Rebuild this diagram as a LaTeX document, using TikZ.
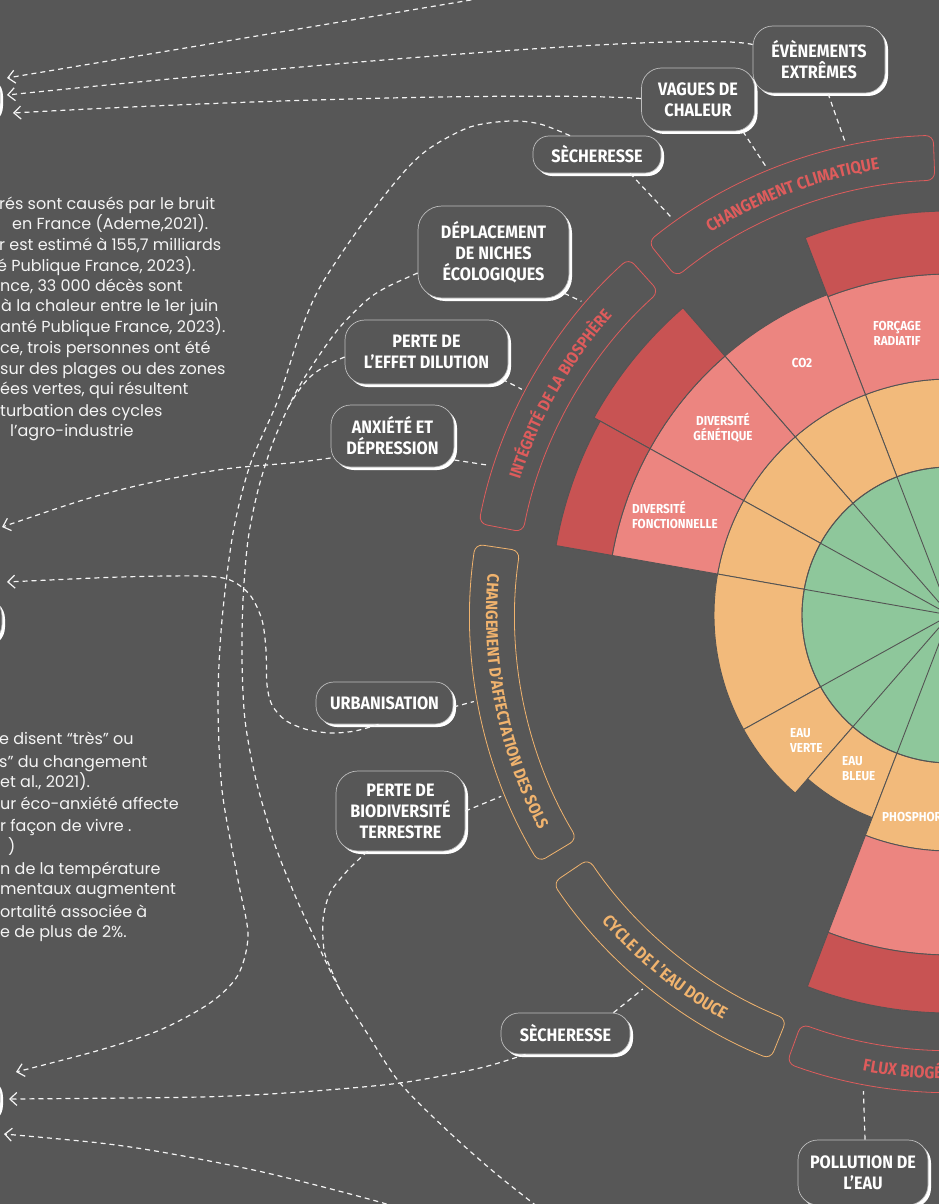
\documentclass[tikz,border=0pt]{standalone}
\usepackage{fontspec}
\setmainfont{Poppins}
\newfontfamily\capsfont[FakeStretch=0.9]{Fira Sans}
\usetikzlibrary{arrows.meta,decorations.text,shadows}

\definecolor{fond}{HTML}{575757}
\definecolor{rouge}{HTML}{C85353}
\definecolor{rose}{HTML}{EC8580}
\definecolor{ocre}{HTML}{F2BA7B}
\definecolor{sauge}{HTML}{8EC79B}
\definecolor{trait}{HTML}{545454}
\definecolor{bandrouge}{HTML}{DE5C5C}
\definecolor{bandocre}{HTML}{F0B36E}
\definecolor{contour}{HTML}{BDBDBD}
\definecolor{blanc}{HTML}{F4F4F4}

\tikzset{
  pastille/.style={draw=contour, line width=0.7pt, fill=fond, rounded corners=20pt,
    general shadow={fill=white, shadow xshift=3pt, shadow yshift=-3pt},
    text=white, align=center, inner sep=0pt,
    font=\capsfont\bfseries\fontsize{18}{21}\selectfont},
  secteur/.style={text=white, inner sep=0pt, font=\capsfont\bfseries\fontsize{13}{15}\selectfont},
  corps/.style={text=blanc, inner sep=0pt, anchor=base west, font=\fontsize{16}{20}\selectfont},
  lien/.style={blanc, line width=1.2pt, dash pattern=on 5pt off 4pt},
  fleche/.style={lien, -{Straight Barb[length=7pt, width=13pt]}},
  coin/.style={line width=0.8pt, rounded corners=8pt},
}

\begin{document}
\begin{tikzpicture}[x=1pt, y=-1pt]
\useasboundingbox (0,0) rectangle (939,1204);
\fill[fond] (0,0) rectangle (939,1204);
\clip (0,0) rectangle (939,1204);

% roue
\begin{scope}[shift={(950,615)}, y=1pt]
  \fill[sauge] (0,0) circle (148);
  \foreach \a/\b/\ro/\rp/\rr in {90/111/236/341/404, 111/131/236/343/0, 131/151/236/343/407, 151/170/236/343/400, 170/209/236/0/0, 209/229/236/0/0, 229/249/217/0/0, 249/272/236/340/398}{
    \filldraw[ocre, draw=trait, line width=0.9pt] (\a:148) arc[start angle=\a, end angle=\b, radius=148] -- (\b:\ro) arc[start angle=\b, end angle=\a, radius=\ro] -- cycle;
    \ifnum\rp>0
      \filldraw[rose, draw=trait, line width=0.9pt] (\a:\ro) arc[start angle=\a, end angle=\b, radius=\ro] -- (\b:\rp) arc[start angle=\b, end angle=\a, radius=\rp] -- cycle;
    \fi
    \ifnum\rr>0
      \filldraw[rouge, draw=trait, line width=0.9pt] (\a:\rp) arc[start angle=\a, end angle=\b, radius=\rp] -- (\b:\rr) arc[start angle=\b, end angle=\a, radius=\rr] -- cycle;
    \fi
    \draw[trait, line width=0.9pt] (0,0) -- (\a:148);
  }
  \draw[trait, line width=0.9pt] (0,0) circle (148);

  % bandes
  \draw[coin, bandrouge] (92:435) arc[start angle=92, end angle=129, radius=435] -- (129:480) arc[start angle=129, end angle=92, radius=480] -- cycle;
  \draw[coin, bandrouge] (132:435) arc[start angle=132, end angle=169, radius=435] -- (169:480) arc[start angle=169, end angle=132, radius=480] -- cycle;
  \draw[coin, bandocre] (171.5:435) arc[start angle=171.5, end angle=211, radius=435] -- (211:480) arc[start angle=211, end angle=171.5, radius=480] -- cycle;
  \draw[coin, bandocre] (214:436) arc[start angle=214, end angle=248, radius=436] -- (248:479) arc[start angle=248, end angle=214, radius=479] -- cycle;
  \draw[coin, bandrouge] (250:435) arc[start angle=250, end angle=292, radius=435] -- (292:477) arc[start angle=292, end angle=250, radius=477] -- cycle;

  \path[decorate, decoration={text along path, text align=center,
    text={|\capsfont\bfseries\fontsize{17}{17}\selectfont\color{bandrouge}|CHANGEMENT CLIMATIQUE}}]
    (129:451) arc[start angle=129, end angle=92, radius=451];
  \path[decorate, decoration={text along path, text align=center,
    text={|\capsfont\bfseries\fontsize{16.5}{17}\selectfont\color{bandrouge}|INTÉGRITÉ DE LA BIOSPHÈRE}}]
    (169:451) arc[start angle=169, end angle=132, radius=451];
  \path[decorate, decoration={text along path, text align=center,
    text={|\capsfont\bfseries\fontsize{16.5}{17}\selectfont\color{bandocre}|CHANGEMENT D’AFFECTATION DES SOLS}}]
    (171.5:464) arc[start angle=171.5, end angle=211, radius=464];
  \path[decorate, decoration={text along path, text align=center,
    text={|\capsfont\bfseries\fontsize{17}{17}\selectfont\color{bandocre}|CYCLE DE L’EAU DOUCE}}]
    (214:464) arc[start angle=214, end angle=248, radius=464];
  \path[decorate, decoration={text along path, text align=center,
    text={|\capsfont\bfseries\fontsize{17}{17}\selectfont\color{bandrouge}|FLUX BIOGÉOCHIMIQUES}}]
    (250:464) arc[start angle=250, end angle=289, radius=464];

  \coordinate (k1) at (102.5:484);
  \coordinate (k2) at (112.3:484);
  \coordinate (k3) at (125:484);
  \coordinate (k4) at (139.6:484);
  \coordinate (k5) at (152.2:484);
  \coordinate (k6) at (162:484);
  \coordinate (k7) at (190.3:484);
  \coordinate (k8) at (202:484);
  \coordinate (k9) at (230.6:484);
  \coordinate (k10) at (259.7:484);
\end{scope}

\node[secteur, align=center] (forc) at (897,333) {FORÇAGE\\RADIATIF};
\node[secteur] (co2) at (802,363) {CO2};
\node[secteur, align=center] (divg) at (723,428) {DIVERSITÉ\\GÉNÉTIQUE};
\node[secteur, align=left, anchor=west] (divf) at (632,515) {DIVERSITÉ\\FONCTIONNELLE};
\node[secteur, align=left, anchor=west] (verte) at (790,740) {EAU\\VERTE};
\node[secteur, align=left, anchor=west] (bleue) at (842,769) {EAU\\BLEUE};
\node[secteur, anchor=west] (phos) at (882,817) {PHOSPHORE};

% boites
\node[pastille, minimum width=132pt, minimum height=67pt] (evt) at (819,59.5) {ÉVÈNEMENTS\\EXTRÊMES};
\node[pastille, minimum width=113pt, minimum height=63pt] (vag) at (698,99.5) {VAGUES DE\\CHALEUR};
\node[pastille, rounded corners=16pt, minimum width=128pt, minimum height=37pt] (sec1) at (597,154.5) {SÈCHERESSE};
\node[pastille, rounded corners=24pt, minimum width=151pt, minimum height=92pt] (dep) at (493.5,252) {DÉPLACEMENT\\DE NICHES\\ÉCOLOGIQUES};
\node[pastille, minimum width=163pt, minimum height=64pt] (dil) at (426.5,352) {PERTE DE\\L’EFFET DILUTION};
\node[pastille, minimum width=123pt, minimum height=62pt] (anx) at (392.5,436) {ANXIÉTÉ ET\\DÉPRESSION};
\node[pastille, rounded corners=18pt, minimum width=137pt, minimum height=42pt] (urb) at (384.5,703) {URBANISATION};
\node[pastille, rounded corners=22pt, minimum width=129pt, minimum height=80pt] (bio) at (400.5,811) {PERTE DE\\BIODIVERSITÉ\\TERRESTRE};
\node[pastille, rounded corners=18pt, minimum width=129pt, minimum height=41pt] (sec2) at (565.5,1033.5) {SÈCHERESSE};
\node[pastille, minimum width=130pt, minimum height=65pt] (pol) at (863,1172.5) {POLLUTION DE\\L’EAU};
\node[pastille, minimum width=150pt, minimum height=50pt] (gauche1) at (-75,98) {};
\node[pastille, minimum width=150pt, minimum height=48pt] (gauche2) at (-73,620) {};
\node[pastille, minimum width=150pt, minimum height=48pt] (gauche3) at (-75,1098) {};

% liens courts
\draw[lien] ([xshift=9pt]evt.south) -- (k1);
\draw[lien] ([xshift=-12pt]vag.south east) -- (k2);
\draw[lien] ([xshift=33pt]sec1.south) -- (k3);
\draw[lien] ([xshift=-5pt, yshift=5pt]dep.south east) -- (k4);
\draw[lien] ([xshift=-6pt, yshift=5pt]dil.south east) -- (k5);
\draw[lien] ([yshift=-24pt]anx.east) -- (k6);
\draw[lien] ([yshift=-4pt]urb.east) -- (k7);
\draw[lien] (bio.east) -- (k8);
\draw[lien] ([xshift=48pt]sec2.north) -- (k9);
\draw[lien] ([xshift=2pt]pol.north) -- (k10);

% liens longs
\coordinate (bout1) at (7,78);
\coordinate (bout2) at (7,95);
\coordinate (bout3) at (13,113);
\coordinate (bout4) at (2,527);
\coordinate (bout5) at (7,582);
\coordinate (bout6) at (16,1072);
\coordinate (bout7) at (9,1099);
\coordinate (bout8) at (4,1134);
\coordinate (haut) at (560,-15);
\coordinate (bas) at (420,1218);
\coordinate (sortie) at (565,1228);
\coordinate (d4) at ([xshift=-27pt]sec1.north);
\coordinate (d5) at ([yshift=-21pt]dep.west);
\coordinate (d6) at ([yshift=-5pt]dil.west);
\coordinate (d7) at ([yshift=-22pt]anx.west);
\coordinate (d8) at ([xshift=-6pt]urb.south);
\coordinate (d9) at ([xshift=-33pt]bio.south);
\coordinate (d10) at ([xshift=-40pt]sec2.south);

\draw[fleche] (haut) -- (bout1);
\draw[fleche] ([yshift=15pt]evt.west) .. controls (700,32) and (350,60) .. (bout2);
\draw[fleche] ([yshift=1pt]vag.west) .. controls (560,93) and (300,97) .. (bout3);
\draw[fleche] plot[smooth] coordinates {(d4) (540,124) (510,121) (470,127) (430,148) (403,173) (360,227) (320,287) (300,333) (278,400) (250,465) (233,533) (222,620) (218,700) (222,790) (238,880) (248,935) (238,975) (210,1003) (160,1030) (100,1050) (bout6)};
\draw[lien] plot[smooth] coordinates {(d5) (387,287) (367,300) (340,327) (318,357) (300,385) (287,410) (272,445) (258,490) (248,540) (243,600) (242,660) (245,720) (256,780) (275,845) (297,900) (317,943) (340,990) (367,1033) (400,1083) (450,1133) (500,1177) (sortie)};
\draw[lien] plot[smooth] coordinates {(d6) (327,365) (310,377) (297,393) (287,410)};
\draw[fleche] plot[smooth] coordinates {(d7) (300,462) (267,465) (233,468) (200,473) (140,485) (83,500) (bout4)};
\draw[fleche] plot[smooth] coordinates {(d8) (355,731) (330,733) (305,729) (285,720) (272,705) (267,685) (266,650) (262,620) (250,595) (230,580) (200,576) (120,577) (bout5)};
\draw[lien] plot[smooth] coordinates {(d9) (348,870) (330,893) (323,920) (324,950) (330,967) (340,990)};
\draw[fleche] plot[smooth] coordinates {(d10) (480,1068) (400,1083) (300,1092) (200,1097) (bout7)};
\draw[fleche] plot[smooth] coordinates {(bas) (383,1203) (267,1173) (167,1153) (100,1143) (bout8)};

% textes
\node[corps] (t1) at (-1,209) {rés sont causés par le bruit};
\node[corps] (t2) at (12,229) {en France (Ademe,2021).};
\node[corps] (t3) at (-1,250) {r est estimé à 155,7 milliards};
\node[corps] (t4) at (-3,271) {é Publique France, 2023).};
\node[corps] (t5) at (0,291) {nce, 33 000 décès sont};
\node[corps] (t6) at (1,311) {à la chaleur entre le 1er juin};
\node[corps] (t7) at (0,332) {anté Publique France, 2023).};
\node[corps] (t8) at (0,353) {ce, trois personnes ont été};
\node[corps] (t9) at (0,374) {sur des plages ou des zones};
\node[corps] (t10) at (0,394) {ées vertes, qui résultent};
\node[corps] (t11) at (0,416) {turbation des cycles};
\node[corps] (t12) at (10,436) {l’agro-industrie};

\node[corps] (u1) at (-1,744) {e disent “très” ou};
\node[corps] (u2) at (-1,767) {s” du changement};
\node[corps] (u3) at (0,787) {et al., 2021).};
\node[corps] (u4) at (0,809) {ur éco-anxiété affecte};
\node[corps] (u5) at (0,831) {r façon de vivre .};
\node[corps] (u6) at (8,852) {)};
\node[corps] (u7) at (0,874) {n de la température};
\node[corps] (u8) at (0,894) {mentaux augmentent};
\node[corps] (u9) at (0,917) {ortalité associée à};
\node[corps] (u10) at (0,937) {e de plus de 2\%.};
\end{tikzpicture}
\end{document}
